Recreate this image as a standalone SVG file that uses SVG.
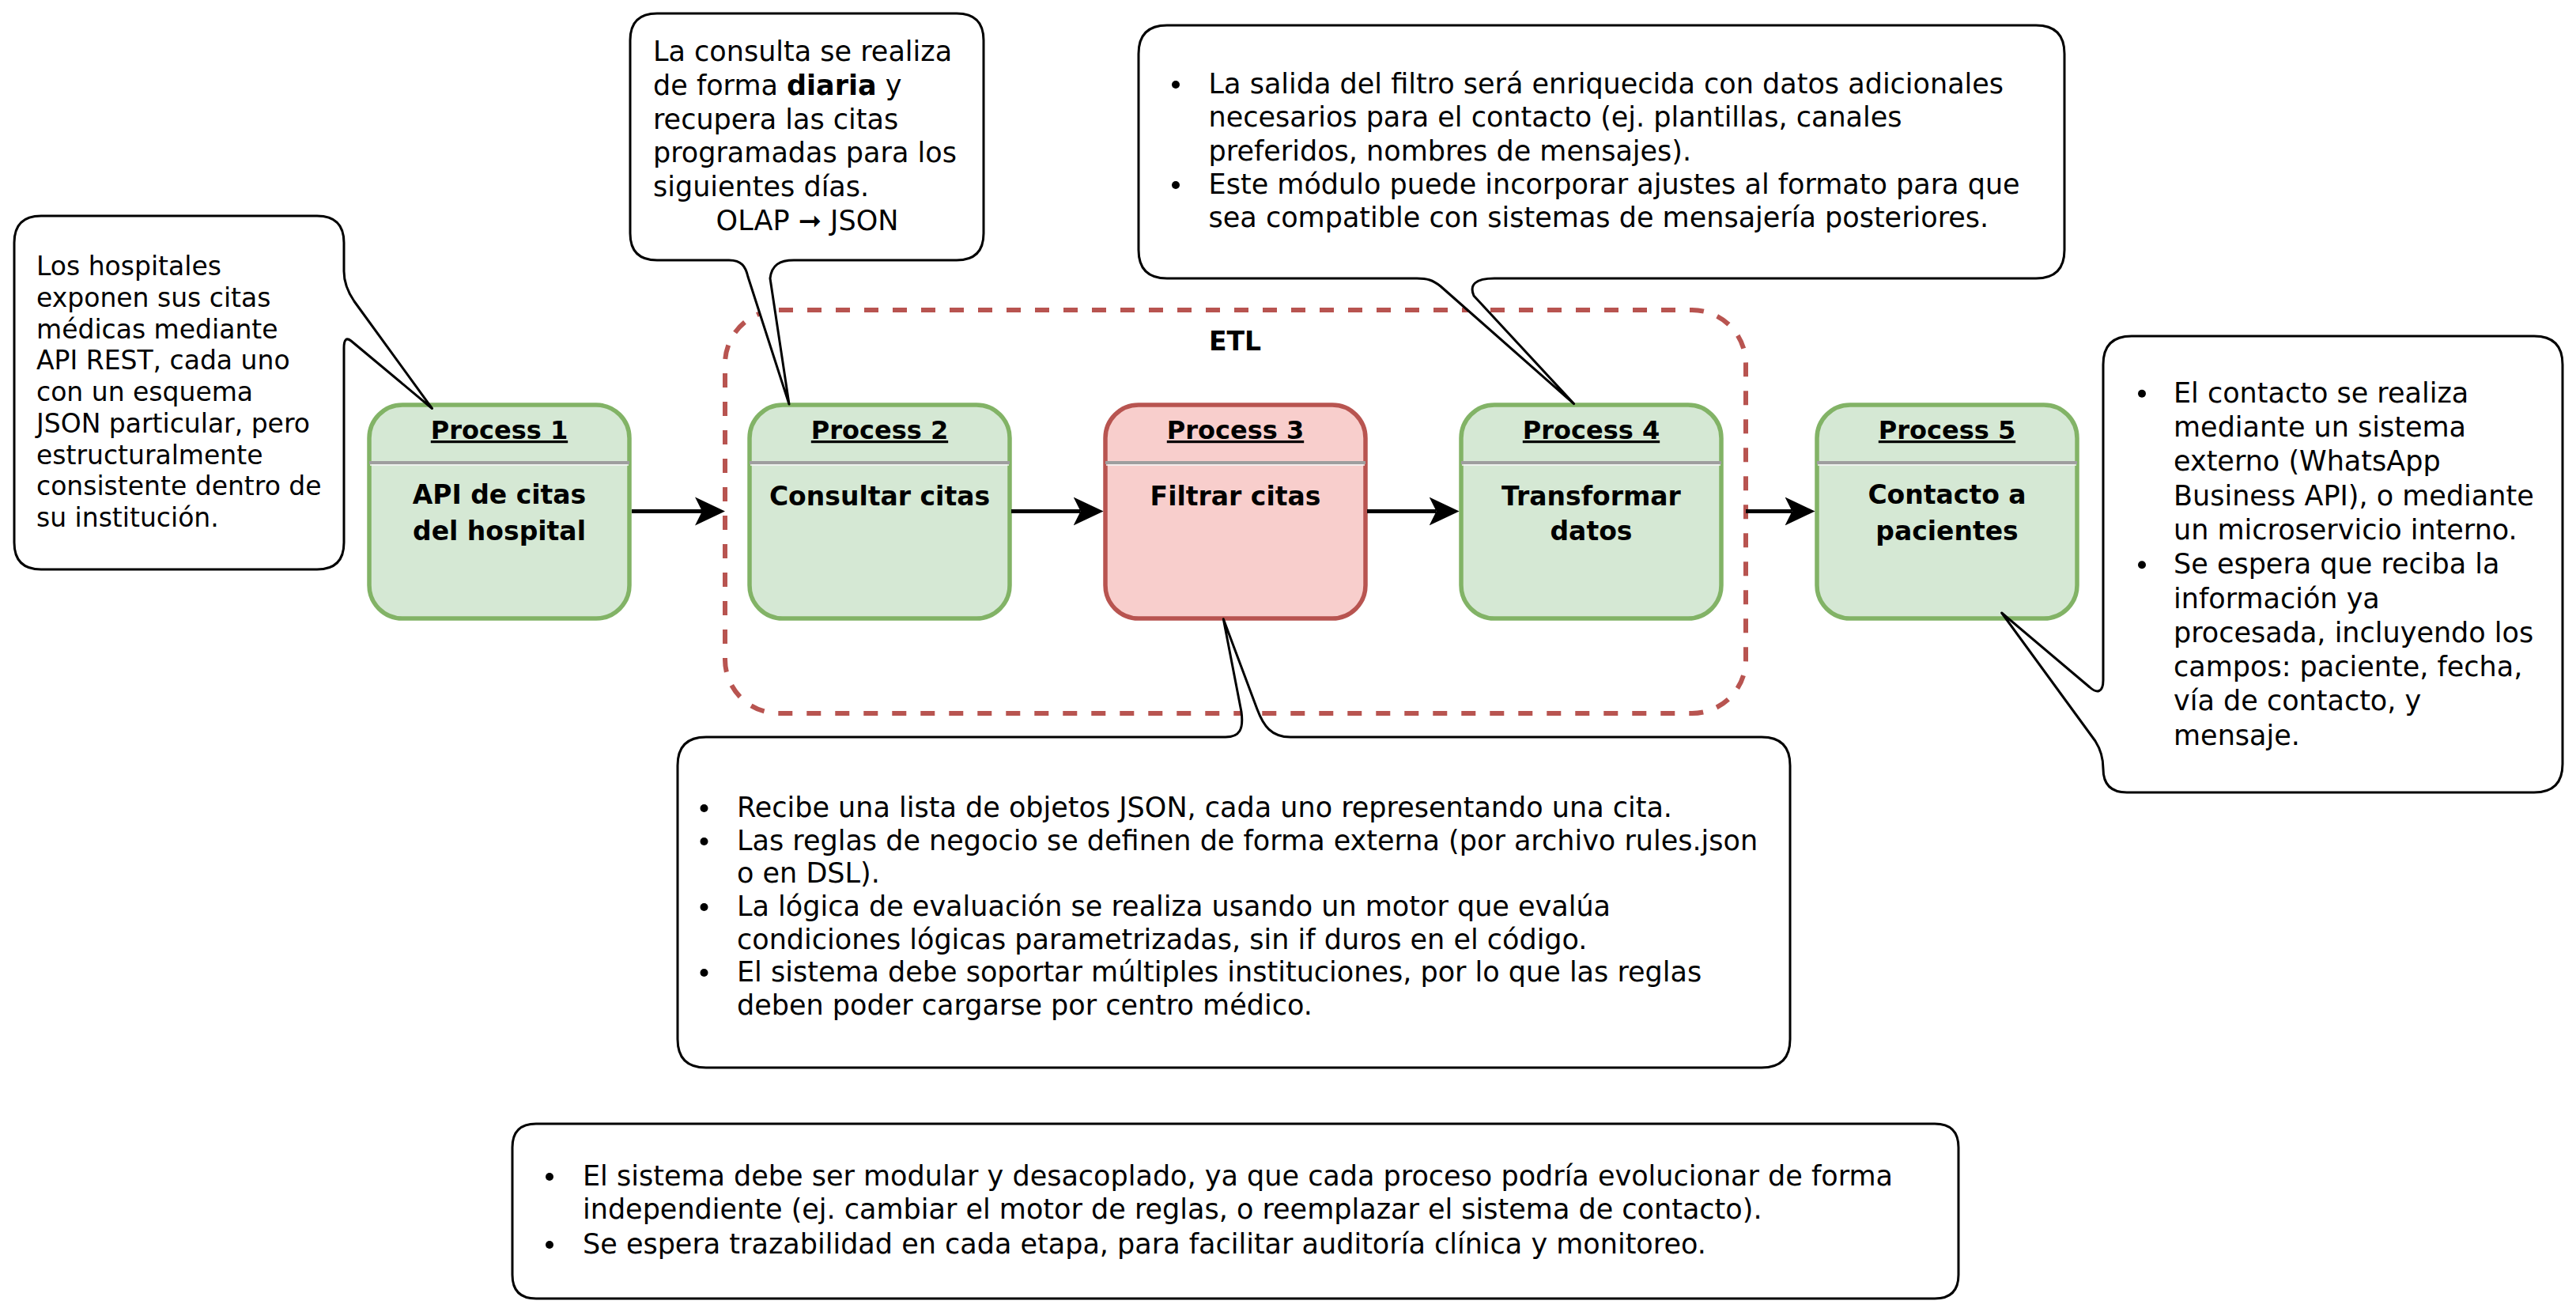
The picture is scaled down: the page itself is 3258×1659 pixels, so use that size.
<svg xmlns="http://www.w3.org/2000/svg" width="3258" height="1659" viewBox="0 0 3258 1659">
<defs>
<style>
.bg{fill:#ffffff}
.node-g{fill:#d5e8d4;stroke:#82b366;stroke-width:5.5}
.node-r{fill:#f8cecc;stroke:#b85450;stroke-width:5.5}
.div{stroke:#9e9e9e;stroke-width:4}
.div2{stroke:#f4f4f4;stroke-width:1.5}
.etl{fill:none;stroke:#b85450;stroke-width:6;stroke-dasharray:18 18}
.note{fill:#ffffff;stroke:#000000;stroke-width:3;stroke-linejoin:round}
.edge{fill:none;stroke:#000000;stroke-width:5}
.t{font-family:"DejaVu Sans","Liberation Sans",sans-serif;font-size:35px;fill:#000000}
.t1{font-family:"DejaVu Sans","Liberation Sans",sans-serif;font-size:33px;fill:#000000}
.title{font-family:"DejaVu Sans","Liberation Sans",sans-serif;font-size:32px;font-weight:bold;text-anchor:middle;text-decoration:underline;fill:#000000}
.body{font-family:"DejaVu Sans","Liberation Sans",sans-serif;font-size:33px;font-weight:bold;text-anchor:middle;fill:#000000}
.bul{fill:#000000}
</style>
<marker id="arr" markerUnits="userSpaceOnUse" markerWidth="40" markerHeight="38" viewBox="0 0 40 38" refX="9" refY="19" orient="auto">
<path d="M0,1 L38,19 L0,37 L9,19 Z" fill="#000000"/>
</marker>
</defs>
<rect class="bg" x="0" y="0" width="3258" height="1659"/>

<g id="etl-group">
<rect class="etl" x="917" y="392" width="1291" height="510" rx="68" ry="68"/>
<text class="body" x="1562" y="443">ETL</text>
</g>

<g id="process1">
<rect class="node-g" x="467" y="512" width="329" height="270" rx="42" ry="42"/>
<line class="div" x1="467" y1="585" x2="796" y2="585"/>
<line class="div2" x1="468" y1="588" x2="795" y2="588"/>
<text class="title" x="631.5" y="555">Process 1</text>
<text class="body" x="631.5" y="637">API de citas</text>
<text class="body" x="631.5" y="683">del hospital</text>
</g>

<g id="process2">
<rect class="node-g" x="948" y="512" width="329" height="270" rx="42" ry="42"/>
<line class="div" x1="948" y1="585" x2="1277" y2="585"/>
<line class="div2" x1="949" y1="588" x2="1276" y2="588"/>
<text class="title" x="1112.5" y="555">Process 2</text>
<text class="body" x="1112.5" y="639">Consultar citas</text>
</g>

<g id="process3">
<rect class="node-r" x="1398" y="512" width="329" height="270" rx="42" ry="42"/>
<line class="div" x1="1398" y1="585" x2="1727" y2="585"/>
<line class="div2" x1="1399" y1="588" x2="1726" y2="588"/>
<text class="title" x="1562.5" y="555">Process 3</text>
<text class="body" x="1562.5" y="639">Filtrar citas</text>
</g>

<g id="process4">
<rect class="node-g" x="1848" y="512" width="329" height="270" rx="42" ry="42"/>
<line class="div" x1="1848" y1="585" x2="2177" y2="585"/>
<line class="div2" x1="1849" y1="588" x2="2176" y2="588"/>
<text class="title" x="2012.5" y="555">Process 4</text>
<text class="body" x="2012.5" y="639">Transformar</text>
<text class="body" x="2012.5" y="683">datos</text>
</g>

<g id="process5">
<rect class="node-g" x="2298" y="512" width="329" height="270" rx="42" ry="42"/>
<line class="div" x1="2298" y1="585" x2="2627" y2="585"/>
<line class="div2" x1="2299" y1="588" x2="2626" y2="588"/>
<text class="title" x="2462.5" y="555">Process 5</text>
<text class="body" x="2462.5" y="637">Contacto a</text>
<text class="body" x="2462.5" y="683">pacientes</text>
</g>

<g id="connectors">
<path class="edge" d="M799,646.5 H888" marker-end="url(#arr)"/>
<path class="edge" d="M1279,646.5 H1366.6" marker-end="url(#arr)"/>
<path class="edge" d="M1729,646.5 H1816.6" marker-end="url(#arr)"/>
<path class="edge" d="M2208,646.5 H2266.5" marker-end="url(#arr)"/>
</g>

<g id="note1">
<path class="note" d="M52,273 H401 Q435,273 435,307 V343 Q435,362 448,381 L546.5,516.5 L444,431 Q435,424 435,440 V686 Q435,720 401,720 H52 Q18,720 18,686 V307 Q18,273 52,273 Z"/>
<text class="t1" x="46" y="348">Los hospitales</text>
<text class="t1" x="46" y="387.75">exponen sus citas</text>
<text class="t1" x="46" y="427.5">médicas mediante</text>
<text class="t1" x="46" y="467.25">API REST, cada uno</text>
<text class="t1" x="46" y="507">con un esquema</text>
<text class="t1" x="46" y="546.75">JSON particular, pero</text>
<text class="t1" x="46" y="586.5">estructuralmente</text>
<text class="t1" x="46" y="626.25">consistente dentro de</text>
<text class="t1" x="46" y="666">su institución.</text>
</g>

<g id="note2">
<path class="note" d="M831,17 H1210 Q1244,17 1244,51 V295 Q1244,329 1210,329 H1004 C986,329 976,335 974,352 L998,511 L946,350 C943,337 938,329 922,329 H831 Q797,329 797,295 V51 Q797,17 831,17 Z"/>
<text class="t" x="826" y="77">La consulta se realiza</text>
<text class="t" x="826" y="119.75">de forma <tspan font-weight="bold">diaria</tspan> y</text>
<text class="t" x="826" y="162.5">recupera las citas</text>
<text class="t" x="826" y="205.25">programadas para los</text>
<text class="t" x="826" y="248">siguientes días.</text>
<text class="t" x="1021" y="291" text-anchor="middle">OLAP <tspan font-weight="bold">➞</tspan> JSON</text>
</g>

<g id="note4">
<path class="note" d="M1476,32 H2575 Q2611,32 2611,68 V316 Q2611,352 2575,352 H1890 C1866,352 1858,360 1864,374 L1990.6,510.6 L1822,362 C1812,354 1805,352 1792,352 H1476 Q1440,352 1440,316 V68 Q1440,32 1476,32 Z"/>
<circle class="bul" cx="1487" cy="107" r="5"/>
<circle class="bul" cx="1487" cy="234" r="5"/>
<text class="t" x="1528.6" y="118">La salida del filtro será enriquecida con datos adicionales</text>
<text class="t" x="1528.6" y="160.25">necesarios para el contacto (ej. plantillas, canales</text>
<text class="t" x="1528.6" y="202.5">preferidos, nombres de mensajes).</text>
<text class="t" x="1528.6" y="244.75">Este módulo puede incorporar ajustes al formato para que</text>
<text class="t" x="1528.6" y="287">sea compatible con sistemas de mensajería posteriores.</text>
</g>

<g id="note3">
<path class="note" d="M893,932 H1550 C1568,932 1573,922 1570,900 L1547.3,782.7 L1590,896.7 C1598,918 1608,932 1632,932 H2228 Q2264,932 2264,968 V1314 Q2264,1350 2228,1350 H893 Q857,1350 857,1314 V968 Q857,932 893,932 Z"/>
<circle class="bul" cx="890.5" cy="1022" r="5"/>
<circle class="bul" cx="890.5" cy="1064" r="5"/>
<circle class="bul" cx="890.5" cy="1147" r="5"/>
<circle class="bul" cx="890.5" cy="1230" r="5"/>
<text class="t" x="932" y="1033">Recibe una lista de objetos JSON, cada uno representando una cita.</text>
<text class="t" x="932" y="1075">Las reglas de negocio se definen de forma externa (por archivo rules.json</text>
<text class="t" x="932" y="1116">o en DSL).</text>
<text class="t" x="932" y="1158">La lógica de evaluación se realiza usando un motor que evalúa</text>
<text class="t" x="932" y="1200">condiciones lógicas parametrizadas, sin if duros en el código.</text>
<text class="t" x="932" y="1241">El sistema debe soportar múltiples instituciones, por lo que las reglas</text>
<text class="t" x="932" y="1283">deben poder cargarse por centro médico.</text>
</g>

<g id="note5">
<path class="note" d="M2696,425 H3205 Q3241,425 3241,461 V966 Q3241,1002 3205,1002 H2690 Q2660,1002 2660,972 C2660,958 2657,948 2650,937 L2531.7,775 L2643,869 C2652,877 2660,876 2660,860 V461 Q2660,425 2696,425 Z"/>
<circle class="bul" cx="2709" cy="497.7" r="5"/>
<circle class="bul" cx="2709" cy="714.2" r="5"/>
<text class="t" x="2749" y="508.7">El contacto se realiza</text>
<text class="t" x="2749" y="552">mediante un sistema</text>
<text class="t" x="2749" y="595.3">externo (WhatsApp</text>
<text class="t" x="2749" y="638.6">Business API), o mediante</text>
<text class="t" x="2749" y="681.9">un microservicio interno.</text>
<text class="t" x="2749" y="725.2">Se espera que reciba la</text>
<text class="t" x="2749" y="768.5">información ya</text>
<text class="t" x="2749" y="811.8">procesada, incluyendo los</text>
<text class="t" x="2749" y="855.1">campos: paciente, fecha,</text>
<text class="t" x="2749" y="898.4">vía de contacto, y</text>
<text class="t" x="2749" y="941.7">mensaje.</text>
</g>

<g id="note6">
<path class="note" d="M678,1421 H2447 Q2477,1421 2477,1451 V1612 Q2477,1642 2447,1642 H678 Q648,1642 648,1612 V1451 Q648,1421 678,1421 Z"/>
<circle class="bul" cx="695" cy="1488" r="5"/>
<circle class="bul" cx="695" cy="1574" r="5"/>
<text class="t" x="737" y="1499">El sistema debe ser modular y desacoplado, ya que cada proceso podría evolucionar de forma</text>
<text class="t" x="737" y="1541">independiente (ej. cambiar el motor de reglas, o reemplazar el sistema de contacto).</text>
<text class="t" x="737" y="1585">Se espera trazabilidad en cada etapa, para facilitar auditoría clínica y monitoreo.</text>
</g>
</svg>
